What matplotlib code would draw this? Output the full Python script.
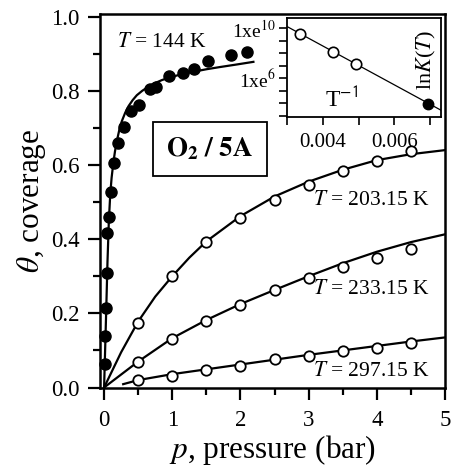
import matplotlib
matplotlib.use("Agg")
import matplotlib.pyplot as plt
from matplotlib.ticker import MultipleLocator, FixedLocator, FixedFormatter, NullFormatter, NullLocator

plt.rcParams['font.family'] = ['Liberation Serif', 'DejaVu Serif']
plt.rcParams['mathtext.fontset'] = 'stix'

# ---- data: T = 144 K (filled) ----
p144 = [0.015, 0.019, 0.029, 0.040, 0.048, 0.069, 0.107, 0.151, 0.205, 0.293,
        0.395, 0.517, 0.678, 0.761, 0.956, 1.152, 1.318, 1.518, 1.859, 2.094]
th144 = [0.063, 0.139, 0.215, 0.310, 0.416, 0.459, 0.528, 0.604, 0.658, 0.701,
         0.745, 0.762, 0.806, 0.809, 0.840, 0.849, 0.860, 0.881, 0.896, 0.905]
fit144_p = [0, 0.015, 0.03, 0.05, 0.07, 0.09, 0.11, 0.135, 0.16, 0.19, 0.225, 0.26,
            0.31, 0.36, 0.42, 0.48, 0.56, 0.65, 0.75, 0.85, 1.0, 1.15, 1.3, 1.5,
            1.7, 1.95, 2.19]
fit144_th = [0, 0.10, 0.20, 0.34, 0.45, 0.52, 0.565, 0.605, 0.637, 0.667, 0.696, 0.718,
             0.741, 0.759, 0.775, 0.788, 0.800, 0.811, 0.821, 0.829, 0.838, 0.845, 0.851,
             0.858, 0.864, 0.871, 0.878]

# ---- data: open-circle isotherms ----
p_open = [0.5, 1.0, 1.5, 2.0, 2.5, 3.0, 3.5, 4.0, 4.5]
th203 = [0.173, 0.300, 0.391, 0.456, 0.505, 0.546, 0.583, 0.611, 0.637]
th233 = [0.070, 0.130, 0.179, 0.222, 0.263, 0.294, 0.326, 0.348, 0.373]
th297 = [0.020, 0.032, 0.047, 0.058, 0.076, 0.085, 0.098, 0.107, 0.119]

fit203_p = [0, 0.25, 0.5, 0.75, 1.0, 1.25, 1.5, 2.0, 2.5, 3.0, 3.5, 4.0, 4.5, 5.0]
fit203_th = [0, 0.095, 0.178, 0.245, 0.300, 0.350, 0.394, 0.462, 0.515, 0.555, 0.587,
             0.613, 0.629, 0.640]
fit233_p = [0, 0.5, 1.0, 1.5, 2.0, 2.5, 3.0, 3.5, 4.0, 4.5, 5.0]
fit233_th = [0, 0.070, 0.133, 0.182, 0.225, 0.263, 0.300, 0.335, 0.366, 0.392, 0.413]
fit297_p = [0.28, 0.5, 1.0, 1.5, 2.0, 2.5, 3.0, 3.5, 4.0, 4.5, 5.0]
fit297_th = [0.009, 0.020, 0.036, 0.049, 0.062, 0.075, 0.088, 0.100, 0.112, 0.124, 0.135]

# ---- inset data ----
invT_open = [0.003365, 0.004289, 0.004922]
K_open = [10**9.52, 10**8.13, 10**7.12]
invT_fill = [0.006944]
K_fill = [10**3.94]
line_invT = [0.0030, 0.0073]
line_K = [10**10.13, 10**3.46]

labels_T = ["$T$ = 144 K", "$T$ = 203.15 K", "$T$ = 233.15 K", "$T$ = 297.15 K"]

fig = plt.figure(figsize=(4.53, 4.74), dpi=100)
ax = fig.add_axes([100/453, 1-387.5/474, 345/453, 373.5/474])

ms = 8
ax.plot(fit144_p, fit144_th, color='black', lw=1.6, zorder=2)
ax.plot(p144, th144, 'o', color='black', ms=ms, zorder=3, clip_on=False)
for fp, ft in [(fit203_p, fit203_th), (fit233_p, fit233_th), (fit297_p, fit297_th)]:
    ax.plot(fp, ft, color='black', lw=1.6, zorder=2)
for th in (th203, th233, th297):
    ax.plot(p_open, th, 'o', mfc='white', mec='black', mew=1.3, ms=7.5, zorder=3)

ax.set_xlim(-0.06, 5.0)
ax.set_ylim(0, 1.007)
ax.xaxis.set_major_locator(MultipleLocator(1))
ax.xaxis.set_minor_locator(MultipleLocator(0.5))
ax.set_yticks([0, 0.2, 0.4, 0.6, 0.8, 1.0])
ax.set_yticklabels(['0.0', '0.2', '0.4', '0.6', '0.8', '1.0'])
ax.yaxis.set_minor_locator(MultipleLocator(0.1))
ax.tick_params(which='major', direction='out', length=8.5, width=1.6, labelsize=16.5)
ax.tick_params(axis='x', which='major', pad=8)
ax.tick_params(axis='y', which='major', pad=6)
ax.tick_params(which='minor', direction='out', length=5, width=1.6)
for s in ax.spines.values():
    s.set_linewidth(1.8)

ax.set_xlabel("$p$, pressure (bar)", fontsize=22.5, labelpad=1)
ax.set_ylabel(r"$\theta$, coverage", fontsize=22.5, labelpad=2)

ax.text(0.19, 0.929, labels_T[0], fontsize=15.5, va='center', ha='left')
ax.text(3.06, 0.505, labels_T[1], fontsize=15.5, va='center', ha='left')
ax.text(3.06, 0.263, labels_T[2], fontsize=15.5, va='center', ha='left')
ax.text(3.06, 0.043, labels_T[3], fontsize=15.5, va='center', ha='left')

ax.text(1.55, 0.643, r"$\mathbf{O_2\ /\ 5A}$", fontsize=19.5, ha='center', va='center',
        bbox=dict(boxstyle='square,pad=0.5', fc='white', ec='black', lw=1.3))

# ---- inset ----
ins = fig.add_axes([287.3/453, 1-117.3/474, 153.4/453, 99/474])
ins.plot(line_invT, line_K, color='black', lw=0.9, zorder=2)
ins.plot(invT_open, K_open, 'o', mfc='white', mec='black', mew=1.2, ms=7.5, zorder=3)
ins.plot(invT_fill, K_fill, 'o', color='black', ms=7.5, zorder=3)
ins.set_yscale('log')
ins.set_xlim(0.003, 0.0073)
ins.set_ylim(10**2.88, 10**10.8)
ins.xaxis.set_major_locator(FixedLocator([0.003, 0.004, 0.005, 0.006, 0.007]))
ins.xaxis.set_major_formatter(FixedFormatter(['', '0.004', '', '0.006', '']))
ins.xaxis.set_minor_locator(NullLocator())
ins.yaxis.set_major_locator(FixedLocator([10.0**k for k in range(3, 11)]))
ins.yaxis.set_major_formatter(FixedFormatter(['', '', '', r'1xe$^{6}$', '', '', '', r'1xe$^{10}$']))
ins.yaxis.set_minor_locator(NullLocator())
ins.yaxis.set_minor_formatter(NullFormatter())
ins.tick_params(axis='x', direction='out', length=6, width=1.2, labelsize=15, pad=5)
ins.tick_params(axis='y', direction='out', length=6, width=1.2, labelsize=14, pad=2)
for s in ins.spines.values():
    s.set_linewidth(1.3)
ins.text(0.355, 0.18, "T$^{\\mathsf{-1}}$", transform=ins.transAxes, fontsize=17, ha='center', va='center')
ins.text(0.905, 0.58, r"ln$K$($T$)", transform=ins.transAxes, fontsize=16, rotation=90,
         ha='center', va='center')

fig.savefig("out.png", dpi=100)
